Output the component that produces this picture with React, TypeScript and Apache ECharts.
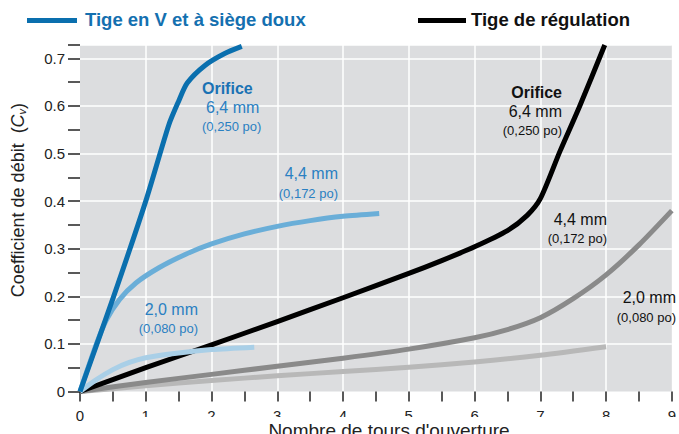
import React, { useEffect, useRef } from "react";
import * as echarts from "echarts";

// Data: [turns, Cv]
const vSeat64: number[][] = [[0, 0], [0.5, 0.195], [1, 0.4], [1.35, 0.56], [1.5, 0.61], [1.63, 0.648], [1.9, 0.685], [2.2, 0.71], [2.46, 0.725]];
const vSeat44: number[][] = [[0, 0], [0.25, 0.1], [0.4, 0.15], [0.6, 0.193], [0.85, 0.228], [1.2, 0.26], [1.6, 0.288], [2, 0.31], [2.5, 0.331], [3, 0.347], [3.5, 0.359], [4, 0.368], [4.55, 0.374]];
const vSeat20: number[][] = [[0, 0], [0.25, 0.025], [0.5, 0.046], [0.75, 0.061], [1, 0.071], [1.5, 0.081], [2, 0.088], [2.65, 0.093]];
const reg64: number[][] = [[0, 0], [1, 0.05], [2, 0.098], [3, 0.147], [4, 0.197], [5, 0.248], [5.5, 0.275], [6, 0.304], [6.5, 0.338], [6.8, 0.37], [7, 0.405], [7.3, 0.505], [7.6, 0.6], [7.98, 0.728]];
const reg44: number[][] = [[0, 0], [1, 0.019], [2, 0.036], [3, 0.053], [4, 0.07], [5, 0.089], [6, 0.113], [6.5, 0.13], [7, 0.155], [7.5, 0.195], [8, 0.245], [8.5, 0.308], [9, 0.38]];
const reg20: number[][] = [[0, 0], [1, 0.012], [2, 0.023], [3, 0.033], [4, 0.042], [5, 0.051], [6, 0.062], [7, 0.076], [8, 0.094]];

const legendNames = ["Tige en V et à siège doux", "Tige de régulation"];
const xAxisTitle = "Nombre de tours d'ouverture";

const FONT = "'Liberation Sans', Arial, sans-serif";
const BLUE_DARK = "#0a6fae";
const BLUE_MID = "#6aaed8";
const BLUE_LIGHT = "#a9cfe7";
const BLUE_TEXT = "#2a80c2";
const GRAY_DARK = "#8a8a8a";
const GRAY_LIGHT = "#b8b8b8";

function lineSeries(name: string, data: number[][], color: string, width: number) {
  return {
    type: "line",
    name,
    data,
    showSymbol: false,
    smooth: 0.25,
    lineStyle: { color, width, cap: "butt", join: "round" },
    silent: true,
  };
}

function txt(x: number, y: number, text: string, opts: any) {
  return {
    type: "text",
    x,
    y,
    z: 50,
    style: {
      text,
      fontFamily: FONT,
      fontSize: opts.size || 16,
      fontWeight: opts.bold ? "bold" : "normal",
      fill: opts.color,
      align: opts.align || "left",
      verticalAlign: "middle",
    },
  };
}

export default function App() {
  const ref = useRef<HTMLDivElement>(null);
  useEffect(() => {
    if (!ref.current) return;
    const chart = echarts.init(ref.current, null, { renderer: "svg" });
    chart.setOption({
      animation: false,
      grid: {
        left: 80,
        right: 5,
        top: 45,
        bottom: 42.5,
        show: true,
        backgroundColor: "#dcdddf",
        borderWidth: 0,
      },
      xAxis: {
        type: "value",
        min: 0,
        max: 9,
        interval: 1,
        axisLine: { show: false },
        axisTick: { show: true, length: 10, lineStyle: { color: "#222", width: 1.5 } },
        minorTick: { show: true, splitNumber: 2, length: 10, lineStyle: { color: "#222", width: 1.5 } },
        axisLabel: { margin: 16, fontSize: 15, color: "#222", fontFamily: FONT },
        splitLine: { show: true, showMinLine: false, showMaxLine: false, lineStyle: { color: "#ffffff", width: 1.5 } },
      },
      yAxis: {
        type: "value",
        min: 0,
        max: 0.728,
        interval: 0.1,
        axisLine: { show: false },
        axisTick: { show: true, length: 12, lineStyle: { color: "#222", width: 1.5 } },
        minorTick: { show: true, splitNumber: 2, length: 12, lineStyle: { color: "#222", width: 1.5 } },
        axisLabel: {
          margin: 15,
          fontSize: 15,
          color: "#222",
          fontFamily: FONT,
          showMaxLabel: false,
          formatter: (v: number) => (v === 0 ? "0" : v.toFixed(1)),
        },
        splitLine: { show: true, showMinLine: false, lineStyle: { color: "#ffffff", width: 1.5 } },
      },
      series: [
        lineSeries("reg 2,0", reg20, GRAY_LIGHT, 5),
        lineSeries("reg 4,4", reg44, GRAY_DARK, 5),
        lineSeries("reg 6,4", reg64, "#000000", 5),
        lineSeries("V 2,0", vSeat20, BLUE_LIGHT, 5),
        lineSeries("V 4,4", vSeat44, BLUE_MID, 5),
        lineSeries("V 6,4", vSeat64, BLUE_DARK, 5),
      ],
      graphic: [
        // legend
        { type: "line", shape: { x1: 27, y1: 20.5, x2: 77, y2: 20.5 }, style: { stroke: BLUE_DARK, lineWidth: 5 } },
        txt(85, 19, legendNames[0], { size: 18.5, bold: true, color: "#1470b0" }),
        { type: "line", shape: { x1: 418, y1: 20.5, x2: 466, y2: 20.5 }, style: { stroke: "#000", lineWidth: 5 } },
        txt(471, 19, legendNames[1], { size: 18.5, bold: true, color: "#111" }),
        // blue annotations
        txt(202, 88, "Orifice", { size: 16, bold: true, color: "#1a72b4" }),
        txt(206, 107, "6,4 mm", { size: 16, color: BLUE_TEXT }),
        txt(202, 126, "(0,250 po)", { size: 13, color: BLUE_TEXT }),
        txt(338, 173, "4,4 mm", { size: 16, color: BLUE_TEXT, align: "right" }),
        txt(338, 193, "(0,172 po)", { size: 13, color: BLUE_TEXT, align: "right" }),
        txt(198, 309, "2,0 mm", { size: 16, color: BLUE_TEXT, align: "right" }),
        txt(198, 328, "(0,080 po)", { size: 13, color: BLUE_TEXT, align: "right" }),
        // black annotations
        txt(562, 92, "Orifice", { size: 16, bold: true, color: "#111", align: "right" }),
        txt(562, 111, "6,4 mm", { size: 16, color: "#111", align: "right" }),
        txt(562, 130, "(0,250 po)", { size: 13, color: "#111", align: "right" }),
        txt(607, 219, "4,4 mm", { size: 16, color: "#111", align: "right" }),
        txt(607, 238, "(0,172 po)", { size: 13, color: "#111", align: "right" }),
        txt(676, 297, "2,0 mm", { size: 16, color: "#111", align: "right" }),
        txt(676, 317, "(0,080 po)", { size: 13, color: "#111", align: "right" }),
        // cover lower half of x labels (as in the reference crop)
        { type: "rect", shape: { x: 100, y: 417, width: 600, height: 30 }, style: { fill: "#ffffff" }, z: 40 },
        {
          type: "text",
          x: 389,
          y: 430,
          z: 60,
          style: { text: xAxisTitle, fontFamily: FONT, fontSize: 19, fill: "#222", align: "center", verticalAlign: "middle" },
        },
        {
          type: "text",
          x: 18,
          y: 200,
          rotation: Math.PI / 2,
          z: 60,
          style: {
            text: "Coefficient de débit  ({i|C}{s|v})",
            fontFamily: FONT,
            fontSize: 18,
            fill: "#222",
            align: "center",
            verticalAlign: "middle",
            rich: {
              i: { fontFamily: FONT, fontSize: 18, fontStyle: "italic", fill: "#222" },
              s: { fontFamily: FONT, fontSize: 11, fontStyle: "italic", fill: "#222", padding: [8, 0, 0, 0] },
            },
          },
        },
      ],
    });
    return () => chart.dispose();
  }, []);
  return <div ref={ref} style={{ width: 679, height: 434, position: "absolute", left: 0, top: 0 }} />;
}
